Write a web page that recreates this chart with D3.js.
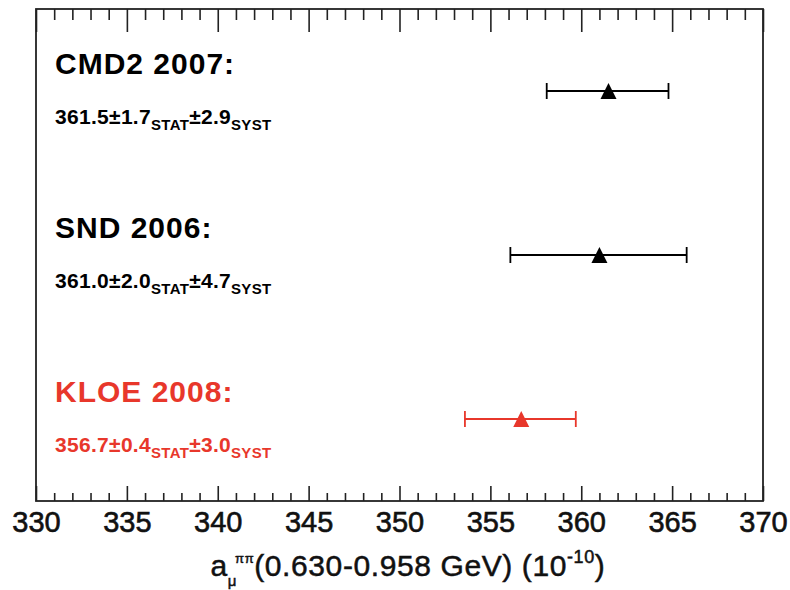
<!DOCTYPE html>
<html>
<head>
<meta charset="utf-8">
<script src="https://cdn.jsdelivr.net/npm/d3@7"></script>
<style>
  body { margin: 0; background: #fff; }
  svg { display: block; font-family: "Liberation Sans", Arial, Helvetica, sans-serif; }
</style>
</head>
<body>
<div id="chart"></div>
<script>
// measurements, 10^-10 units
const experiments = ['CMD2 2007:', 'SND 2006:', 'KLOE 2008:'];
const centralValues = [361.5, 361.0, 356.7];
const statErrors = [1.7, 2.0, 0.4];
const systErrors = [2.9, 4.7, 3.0];
// error bar ends as drawn
const lowEdges = [358.1, 356.1, 353.6];
const highEdges = [364.8, 365.8, 359.7];
const rowPositions = [0.5, 1.5, 2.5];
const rowColors = ['#000000', '#000000', '#e8372b'];

const xDomain = [330, 370];
const majorTicks = d3.range(330, 371, 5);
const minorTicks = d3.range(330, 371, 1).filter(v => v % 5 !== 0);

const width = 790;
const height = 590;
const margin = {top: 9, right: 27, bottom: 89, left: 36};

const x = d3.scaleLinear()
    .domain(xDomain)
    .range([margin.left, width - margin.right]);

const y = d3.scaleLinear()
    .domain([0, 3])
    .range([margin.top, height - margin.bottom]);

const svg = d3.select('#chart')
  .append('svg')
    .attr('width', width)
    .attr('height', height);

const rows = experiments.map((name, i) => ({
  name,
  value: centralValues[i],
  stat: statErrors[i],
  syst: systErrors[i],
  lo: lowEdges[i],
  hi: highEdges[i],
  pos: rowPositions[i],
  color: rowColors[i]
}));

// axes: ticks only, the frame is drawn separately
const yBottom = y.range()[1];
const yTop = y.range()[0];

svg.append('g')
    .attr('transform', `translate(0,${yBottom})`)
    .call(d3.axisBottom(x).tickValues(minorTicks).tickSize(-8).tickFormat(''))
    .call(g => g.select('.domain').remove());

svg.append('g')
    .attr('transform', `translate(0,${yBottom})`)
    .call(d3.axisBottom(x).tickValues(majorTicks).tickSize(-15).tickPadding(10).tickFormat(d3.format('d')))
    .call(g => g.select('.domain').remove())
    .call(g => g.selectAll('text')
        .attr('font-family', '"Liberation Sans", Arial, sans-serif')
        .attr('font-size', 29)
        .attr('fill', '#111')
        .attr('stroke', '#111')
        .attr('stroke-width', 0.6));

svg.append('g')
    .attr('transform', `translate(0,${yTop})`)
    .call(d3.axisTop(x).tickValues(minorTicks).tickSize(-11).tickFormat(''))
    .call(g => g.select('.domain').remove());

svg.append('g')
    .attr('transform', `translate(0,${yTop})`)
    .call(d3.axisTop(x).tickValues(majorTicks).tickSize(-23).tickFormat(''))
    .call(g => g.select('.domain').remove());

svg.selectAll('.tick line')
    .attr('stroke', '#222')
    .attr('stroke-width', 1.6);

svg.append('rect')
    .attr('x', x.range()[0])
    .attr('y', yTop)
    .attr('width', x.range()[1] - x.range()[0])
    .attr('height', yBottom - yTop)
    .attr('fill', 'none')
    .attr('stroke', '#222')
    .attr('stroke-width', 1.8);

// error bars with triangle markers
const triangle = {
  draw(context, size) {
    const r = Math.sqrt(size) / 2;
    context.moveTo(0, -r);
    context.lineTo(r, r);
    context.lineTo(-r, r);
    context.closePath();
  }
};

const bars = svg.append('g')
  .selectAll('g')
  .data(rows)
  .join('g')
    .attr('stroke', d => d.color)
    .attr('stroke-width', 1.8);

bars.append('line')
    .attr('x1', d => x(d.lo))
    .attr('x2', d => x(d.hi))
    .attr('y1', d => y(d.pos))
    .attr('y2', d => y(d.pos));

bars.selectAll('.cap')
  .data(d => [d.lo, d.hi].map(v => ({v, d})))
  .join('line')
    .attr('class', 'cap')
    .attr('x1', e => x(e.v))
    .attr('x2', e => x(e.v))
    .attr('y1', e => y(e.d.pos) - 8)
    .attr('y2', e => y(e.d.pos) + 8);

bars.append('path')
    .attr('d', d3.symbol(triangle, 256))
    .attr('transform', d => `translate(${x(d.value)},${y(d.pos)})`)
    .attr('fill', d => d.color)
    .attr('stroke', 'none');

// labels on the left
const labels = svg.append('g')
  .selectAll('g')
  .data(rows)
  .join('g')
    .attr('fill', d => d.color)
    .attr('font-weight', 'bold');

labels.append('text')
    .attr('x', 55)
    .attr('y', d => y(d.pos) - 17)
    .attr('font-size', 30)
    .attr('letter-spacing', 1)
    .text(d => d.name);

const valueText = labels.append('text')
    .attr('x', 55)
    .attr('y', d => y(d.pos) + 33)
    .attr('font-size', 21)
    .attr('letter-spacing', 0.3);

valueText.each(function(d) {
  const t = d3.select(this);
  t.append('tspan').text(`${d.value.toFixed(1)}±${d.stat.toFixed(1)}`);
  t.append('tspan').attr('font-size', 15).attr('dy', 6).text('STAT');
  t.append('tspan').attr('dy', -6).text(`±${d.syst.toFixed(1)}`);
  t.append('tspan').attr('font-size', 15).attr('dy', 6).text('SYST');
});

// x axis title
const title = svg.append('text')
    .attr('x', 408)
    .attr('y', 576)
    .attr('text-anchor', 'middle')
    .attr('font-size', 30)
    .attr('letter-spacing', 0.6)
    .attr('fill', '#111')
    .attr('stroke', '#111')
    .attr('stroke-width', 0.5);

title.append('tspan').text('a');
title.append('tspan').attr('font-size', 15).attr('dy', 10).text('μ');
title.append('tspan').attr('font-size', 13).attr('dx', -2).attr('dy', -23).text('ππ');
title.append('tspan').attr('dy', 13).text('(0.630-0.958 GeV) (10');
title.append('tspan').attr('font-size', 18).attr('dy', -13).text('-10');
title.append('tspan').attr('dy', 13).text(')');
</script>
</body>
</html>
